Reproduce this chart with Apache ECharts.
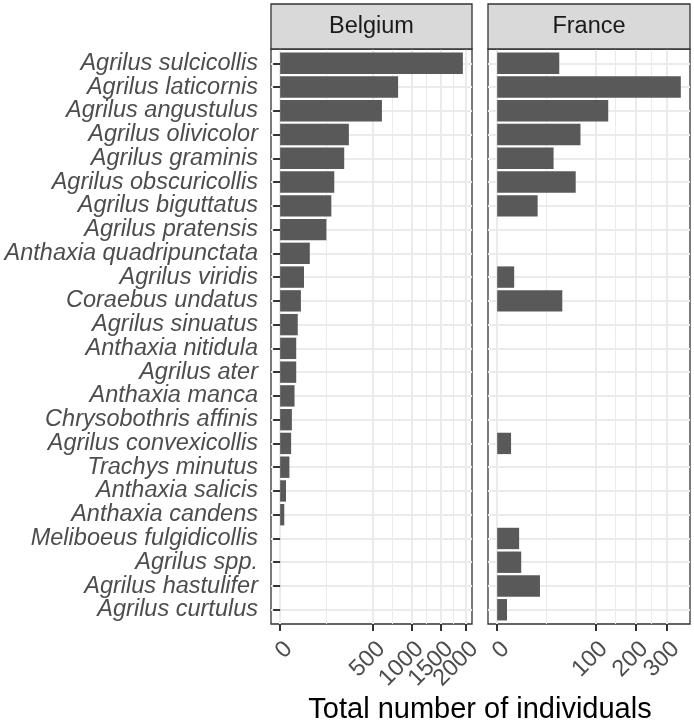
<!DOCTYPE html>
<html><head><meta charset="utf-8">
<script src="https://cdn.jsdelivr.net/npm/echarts@6/dist/echarts.min.js"></script>
<style>html,body{margin:0;padding:0;background:#fff}#c{width:694px;height:725px}</style>
</head><body><div id="c"></div>
<script>
const categories = [
  'Agrilus sulcicollis','Agrilus laticornis','Agrilus angustulus','Agrilus olivicolor',
  'Agrilus graminis','Agrilus obscuricollis','Agrilus biguttatus','Agrilus pratensis',
  'Anthaxia quadripunctata','Agrilus viridis','Coraebus undatus','Agrilus sinuatus',
  'Anthaxia nitidula','Agrilus ater','Anthaxia manca','Chrysobothris affinis',
  'Agrilus convexicollis','Trachys minutus','Anthaxia salicis','Anthaxia candens',
  'Meliboeus fulgidicollis','Agrilus spp.','Agrilus hastulifer','Agrilus curtulus'
];
const belgium = [1936, 807, 601, 274, 238, 170, 152, 124, 51, 33, 25, 18, 15, 15, 12, 8, 7, 5, 2, 1, null, null, null, null];
const france  = [40, 350, 128, 72, 33, 64, 17, null, null, 3, 44, null, null, null, null, null, 2, null, null, null, 5, 6, 19, 1];
const belgiumTicks = [0, 500, 1000, 1500, 2000];
const franceTicks = [0, 100, 200, 300];
const panelNames = ['Belgium', 'France'];
const axisTitle = 'Total number of individuals';

const FONT = '"Liberation Sans", Arial, Helvetica, sans-serif';
const sq = Math.sqrt;
function limits(vals) {
  const L = sq(Math.max(...vals.filter(v => v != null)));
  return [-0.05 * L, 1.05 * L];
}
function minors(ticks) {
  const s = ticks.map(sq), out = [];
  for (let i = 0; i < s.length - 1; i++) out.push((s[i] + s[i + 1]) / 2);
  return out;
}
const idx = categories.map((_, i) => i);

// major axis carrying every other tick (so ECharts never drops an overlapping label)
function xMajor(gridIndex, vals, ticks, parity) {
  const [mn, mx] = limits(vals);
  const tv = ticks.filter((_, i) => i % 2 === parity).map(sq);
  return {
    type: 'value', gridIndex, min: mn, max: mx, position: 'bottom',
    axisLine: {show: false},
    axisTick: {show: true, length: 7, lineStyle: {color: '#333', width: 2}, customValues: tv},
    axisLabel: {show: true, customValues: tv, formatter: v => String(Math.round(v * v)),
      rotate: 45, align: 'right', verticalAlign: 'top', margin: 13, fontSize: 23.5,
      showMinLabel: true, showMaxLabel: true, hideOverlap: false,
      color: '#4D4D4D', fontFamily: FONT},
    splitLine: {show: true, lineStyle: {color: '#EBEBEB', width: 2}}
  };
}
function xMinor(gridIndex, vals, ticks) {
  const [mn, mx] = limits(vals);
  const m = minors(ticks);
  return {
    type: 'value', gridIndex, min: mn, max: mx, position: 'bottom',
    axisLine: {show: false},
    axisTick: {show: false, customValues: m},
    axisLabel: {show: false, customValues: m},
    splitLine: {show: true, lineStyle: {color: '#EBEBEB', width: 1}}
  };
}
function yAx(gridIndex, showLabels) {
  return {
    type: 'value', gridIndex, inverse: true, min: -0.6, max: categories.length - 1 + 0.6,
    axisLine: {show: false},
    axisTick: {show: showLabels, length: 7, lineStyle: {color: '#333', width: 2}, customValues: idx},
    axisLabel: {show: showLabels, customValues: idx, formatter: v => categories[Math.round(v)],
      showMinLabel: true, showMaxLabel: true,
      fontSize: 23.5, fontStyle: 'italic', color: '#4D4D4D', fontFamily: FONT, margin: 13},
    splitLine: {show: true, lineStyle: {color: '#EBEBEB', width: 2}}
  };
}
function barSeries(xAxisIndex, yAxisIndex, vals) {
  const data = [];
  vals.forEach((v, i) => { if (v != null) data.push([sq(v), i]); });
  return {
    type: 'custom', xAxisIndex, yAxisIndex, data, encode: {x: 0, y: 1}, silent: true,
    renderItem: (params, api) => {
      const y = api.value(1), x = api.value(0);
      const p0 = api.coord([0, y]), p1 = api.coord([x, y]);
      const h = Math.abs(api.size([0, 0.9])[1]);
      return {type: 'rect', shape: {x: p0[0], y: p0[1] - h / 2, width: p1[0] - p0[0], height: h},
        style: {fill: '#595959'}};
    }
  };
}

const grids = [
  {left: 271, top: 49, width: 201, height: 575},
  {left: 488, top: 49, width: 202, height: 575}
];
function strip(g, name) {
  return [
    {type: 'rect', shape: {x: g.left, y: 4, width: g.width, height: 45},
      style: {fill: '#D9D9D9', stroke: '#333', lineWidth: 1.3}, z: 10},
    {type: 'text', x: g.left + g.width / 2, y: 27,
      style: {text: name, fill: '#1A1A1A', font: '23.5px ' + FONT, textAlign: 'center', textVerticalAlign: 'middle'}, z: 11}
  ];
}

const chart = echarts.init(document.getElementById('c'), null, {renderer: 'canvas'});
chart.setOption({
  animation: false,
  backgroundColor: '#fff',
  grid: grids.map(g => Object.assign({show: true, borderColor: '#333', borderWidth: 1.3,
    containLabel: false, outerBoundsMode: 'none'}, g)),
  xAxis: [
    xMinor(0, belgium, belgiumTicks),
    xMajor(0, belgium, belgiumTicks, 0),
    xMajor(0, belgium, belgiumTicks, 1),
    xMinor(1, france, franceTicks),
    xMajor(1, france, franceTicks, 0),
    xMajor(1, france, franceTicks, 1)
  ],
  yAxis: [yAx(0, true), yAx(1, false)],
  series: [barSeries(1, 0, belgium), barSeries(4, 1, france)],
  graphic: [
    ...strip(grids[0], panelNames[0]),
    ...strip(grids[1], panelNames[1]),
    {type: 'text', x: 480, y: 710,
      style: {text: axisTitle, fill: '#000', font: '29px ' + FONT, textAlign: 'center', textVerticalAlign: 'middle'}}
  ]
});
</script></body></html>
